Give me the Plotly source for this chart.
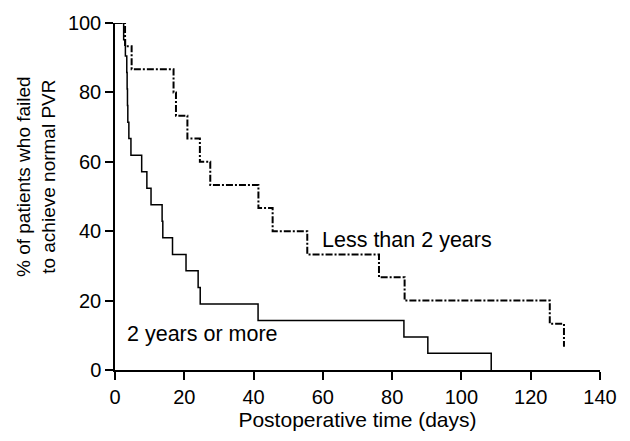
import plotly.graph_objects as go

# Data
times_lt = [2.9, 4.8, 16.9, 17.6, 20.9, 24.5, 27.5, 41.4, 45.5, 55.5, 76.2, 83.6, 125.5, 129.6]
surv_lt = [93.3, 86.7, 80.0, 73.3, 66.7, 60.0, 53.3, 46.7, 40.0, 33.3, 26.7, 20.0, 13.3, 6.7]

times_ge = [2.5, 3.0, 3.4, 3.5, 3.6, 3.7, 4.0, 4.6, 7.7, 9.2, 10.4, 13.6, 13.8, 16.6,
            20.5, 24.0, 24.6, 41.3, 83.4, 90.3, 108.6]
surv_ge = [95.2, 90.5, 85.7, 81.0, 76.2, 71.4, 66.7, 61.9, 57.1, 52.4, 47.6, 42.9, 38.1,
           33.3, 28.6, 23.8, 19.0, 14.3, 9.5, 4.8, 0.0]

x_ticks = [0, 20, 40, 60, 80, 100, 120, 140]
y_ticks = [0, 20, 40, 60, 80, 100]

FONT = "Liberation Sans, Arial, sans-serif"

fig = go.Figure()
fig.add_trace(go.Scatter(
    x=[0] + times_lt, y=[100] + surv_lt, mode="lines",
    line=dict(color="black", width=2, shape="hv", dash="7px,2px,2px,2px"),
    showlegend=False, hoverinfo="skip"))
fig.add_trace(go.Scatter(
    x=[0] + times_ge, y=[100] + surv_ge, mode="lines",
    line=dict(color="black", width=1.5, shape="hv"),
    showlegend=False, hoverinfo="skip"))

W, H = 630, 441
L, R, T, B = 115, 30, 19, 71
pw = W - L - R

fig.update_layout(
    width=W, height=H,
    margin=dict(l=L, r=R, t=T, b=B),
    paper_bgcolor="white", plot_bgcolor="white",
    font=dict(family=FONT, size=20, color="black"),
    xaxis=dict(range=[0, 140], tickvals=x_ticks, showline=True, linecolor="black",
               linewidth=1.5, ticks="outside", ticklen=8, tickwidth=1.5, tickcolor="black",
               showgrid=False, zeroline=False,
               tickfont=dict(size=20),
               title=dict(text="Postoperative time (days)", font=dict(size=21), standoff=1)),
    yaxis=dict(range=[0, 100], tickvals=y_ticks, showline=True, linecolor="black",
               linewidth=1.5, ticks="outside", ticklen=8, tickwidth=1.5, tickcolor="black",
               showgrid=False, zeroline=False, tickfont=dict(size=20)),
    annotations=[
        dict(text="% of patients who failed<br>to achieve normal PVR", textangle=-90,
             xref="paper", yref="paper", x=(36 - L) / pw, y=(370.5 - 175) / (370.5 - 19),
             xanchor="center", yanchor="middle", showarrow=False,
             font=dict(size=19)),
        dict(text="Less than 2 years", x=84.3, y=37.4, xref="x", yref="y",
             showarrow=False, xanchor="center", yanchor="middle", font=dict(size=21.5)),
        dict(text="2 years or more", x=25.4, y=10.4, xref="x", yref="y",
             showarrow=False, xanchor="center", yanchor="middle", font=dict(size=21.5)),
    ],
)

fig.write_html("out.html")
